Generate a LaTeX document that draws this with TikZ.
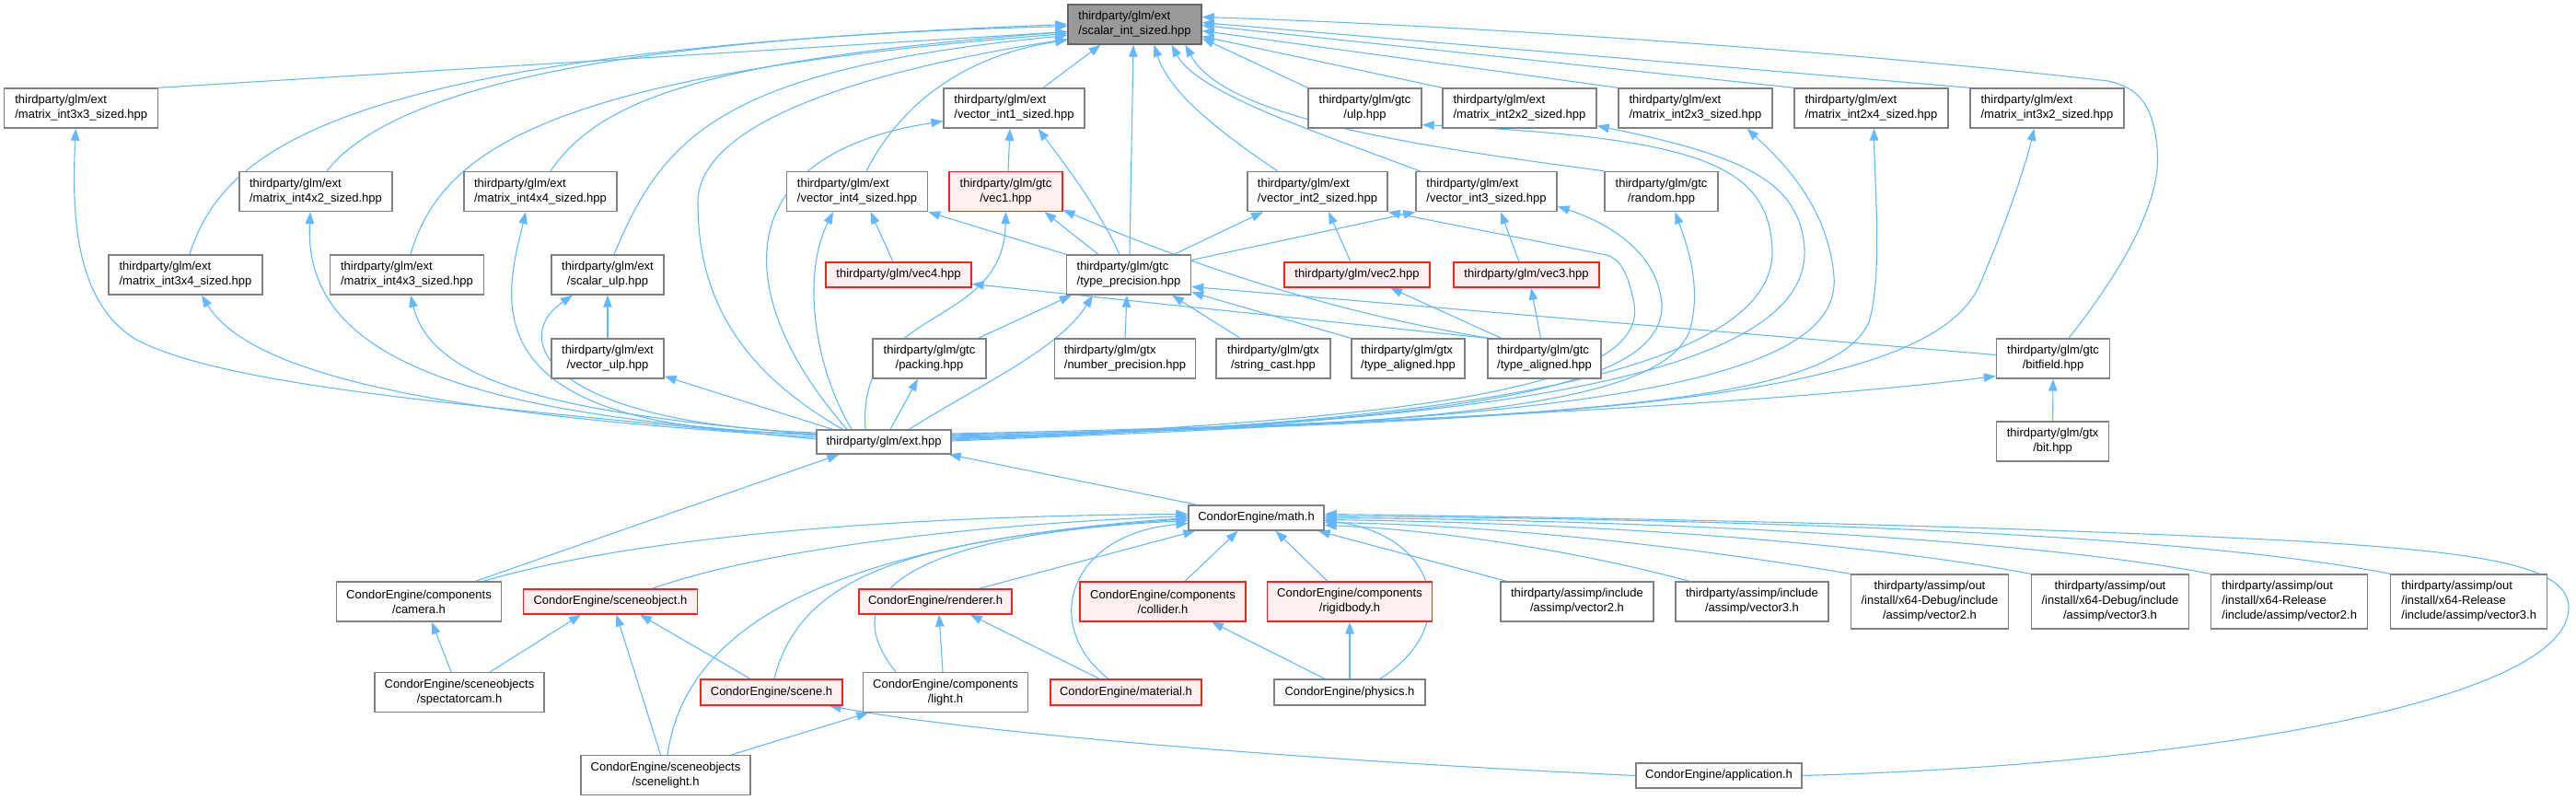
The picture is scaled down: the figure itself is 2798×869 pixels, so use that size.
\documentclass[tikz,border=0pt]{standalone}
\usepackage{fontspec}
\setmainfont{Liberation Sans}
\usetikzlibrary{arrows.meta,calc,backgrounds}
\definecolor{edgec}{HTML}{63B8FF}
\definecolor{nodeb}{HTML}{808080}
\definecolor{rootf}{HTML}{999999}
\definecolor{rootb}{HTML}{666666}
\definecolor{redf}{HTML}{FFF0F0}
\definecolor{redb}{HTML}{FF2020}
\tikzset{
 nb/.style={rectangle, draw=nodeb, fill=white, line width=1.4pt, inner sep=0pt, font=\fontsize{13}{16}\selectfont, text=black, align=center},
 rootn/.style={nb, fill=rootf, draw=rootb},
 redn/.style={nb, fill=redf, draw=redb, line width=1.2pt},
 edge/.style={draw=edgec, line width=1.1pt, -{Triangle[length=13pt,width=9.5pt]}},
 one/.style={minimum height=27pt},
 two/.style={minimum height=43pt},
 three/.style={minimum height=59pt},
 lft/.style={align=left},
}
\begin{document}
\begin{tikzpicture}[x=1pt,y=-1pt]
\useasboundingbox (0,0) rectangle (2798,869);
% ---------- nodes ----------
\node[rootn,two,lft,minimum width=145pt] (S) at (1232.5,26.5) {thirdparty/glm/ext\\/scalar\_int\_sized.hpp};
\node[nb,two,lft,minimum width=167pt] (m33) at (88.25,117.5) {thirdparty/glm/ext\\/matrix\_int3x3\_sized.hpp};
\node[nb,two,lft,minimum width=153pt] (V1) at (1101.5,117.5) {thirdparty/glm/ext\\/vector\_int1\_sized.hpp};
\node[nb,two,minimum width=123pt] (ulp) at (1482.5,117.5) {thirdparty/glm/gtc\\/ulp.hpp};
\node[nb,two,lft,minimum width=167pt] (m22) at (1650.5,117.5) {thirdparty/glm/ext\\/matrix\_int2x2\_sized.hpp};
\node[nb,two,lft,minimum width=167pt] (m23) at (1841.5,117.5) {thirdparty/glm/ext\\/matrix\_int2x3\_sized.hpp};
\node[nb,two,lft,minimum width=167pt] (m24) at (2032.5,117.5) {thirdparty/glm/ext\\/matrix\_int2x4\_sized.hpp};
\node[nb,two,lft,minimum width=167pt] (m32) at (2223.5,117.5) {thirdparty/glm/ext\\/matrix\_int3x2\_sized.hpp};
\node[nb,two,lft,minimum width=166pt] (m42) at (343,208) {thirdparty/glm/ext\\/matrix\_int4x2\_sized.hpp};
\node[nb,two,lft,minimum width=166pt] (m44) at (587,208) {thirdparty/glm/ext\\/matrix\_int4x4\_sized.hpp};
\node[nb,two,lft,minimum width=153pt] (V4) at (931,208) {thirdparty/glm/ext\\/vector\_int4\_sized.hpp};
\node[redn,two,minimum width=123pt] (vec1) at (1092.5,208) {thirdparty/glm/gtc\\/vec1.hpp};
\node[nb,two,lft,minimum width=152pt] (V2) at (1431,208) {thirdparty/glm/ext\\/vector\_int2\_sized.hpp};
\node[nb,two,lft,minimum width=153pt] (V3) at (1614.5,208) {thirdparty/glm/ext\\/vector\_int3\_sized.hpp};
\node[nb,two,minimum width=123pt] (random) at (1804.5,208) {thirdparty/glm/gtc\\/random.hpp};
\node[nb,two,lft,minimum width=167pt] (m34) at (201.5,298.5) {thirdparty/glm/ext\\/matrix\_int3x4\_sized.hpp};
\node[nb,two,lft,minimum width=167pt] (m43) at (442,298.5) {thirdparty/glm/ext\\/matrix\_int4x3\_sized.hpp};
\node[nb,two,minimum width=122pt] (sulp) at (660,298.5) {thirdparty/glm/ext\\/scalar\_ulp.hpp};
\node[redn,one,minimum width=158pt] (vec4) at (976,298.5) {thirdparty/glm/vec4.hpp};
\node[nb,two,lft,minimum width=135pt] (TP) at (1226,298.5) {thirdparty/glm/gtc\\/type\_precision.hpp};
\node[redn,one,minimum width=158pt] (vec2) at (1474,298.5) {thirdparty/glm/vec2.hpp};
\node[redn,one,minimum width=158pt] (vec3) at (1658,298.5) {thirdparty/glm/vec3.hpp};
\node[nb,two,minimum width=122pt] (vulp) at (660,389.5) {thirdparty/glm/ext\\/vector\_ulp.hpp};
\node[nb,two,minimum width=123pt] (packing) at (1009.5,389.5) {thirdparty/glm/gtc\\/packing.hpp};
\node[nb,two,lft,minimum width=153pt] (numprec) at (1222,389.5) {thirdparty/glm/gtx\\/number\_precision.hpp};
\node[nb,two,minimum width=124pt] (strcast) at (1383,389.5) {thirdparty/glm/gtx\\/string\_cast.hpp};
\node[nb,two,lft,minimum width=123pt] (gtxta) at (1529.5,389.5) {thirdparty/glm/gtx\\/type\_aligned.hpp};
\node[nb,two,lft,minimum width=123pt] (gtcta) at (1677.5,389.5) {thirdparty/glm/gtc\\/type\_aligned.hpp};
\node[nb,two,minimum width=123pt] (bitfield) at (2230,389.5) {thirdparty/glm/gtc\\/bitfield.hpp};
\node[nb,minimum height=26pt,minimum width=146pt] (E) at (960,480) {thirdparty/glm/ext.hpp};
\node[nb,two,minimum width=122pt] (bit) at (2229.6,479.5) {thirdparty/glm/gtx\\/bit.hpp};
\node[nb,one,minimum width=147pt] (M) at (1364.5,562.5) {CondorEngine/math.h};
\node[nb,two,minimum width=179pt] (camera) at (455,653.5) {CondorEngine/components\\/camera.h};
\node[redn,one,minimum width=189pt] (sobj) at (663,653.5) {CondorEngine/sceneobject.h};
\node[redn,one,minimum width=166pt] (renderer) at (1016,653.5) {CondorEngine/renderer.h};
\node[redn,two,minimum width=180pt] (collider) at (1263,653.5) {CondorEngine/components\\/collider.h};
\node[redn,two,minimum width=179pt] (rigid) at (1466,653.5) {CondorEngine/components\\/rigidbody.h};
\node[nb,two,minimum width=166pt] (aiv2) at (1713,653.5) {thirdparty/assimp/include\\/assimp/vector2.h};
\node[nb,two,minimum width=166pt] (aiv3) at (1903,653.5) {thirdparty/assimp/include\\/assimp/vector3.h};
\node[nb,three,minimum width=171pt] (adv2) at (2096,653.5) {thirdparty/assimp/out\\/install/x64-Debug/include\\/assimp/vector2.h};
\node[nb,three,minimum width=171pt] (adv3) at (2292,653.5) {thirdparty/assimp/out\\/install/x64-Debug/include\\/assimp/vector3.h};
\node[nb,three,lft,minimum width=170pt] (arv2) at (2486.7,653.5) {thirdparty/assimp/out\\/install/x64-Release\\/include/assimp/vector2.h};
\node[nb,three,lft,minimum width=170pt] (arv3) at (2681.7,653.5) {thirdparty/assimp/out\\/install/x64-Release\\/include/assimp/vector3.h};
\node[nb,two,minimum width=184pt] (spect) at (499,752) {CondorEngine/sceneobjects\\/spectatorcam.h};
\node[redn,minimum height=28pt,minimum width=154pt] (scene) at (838,752) {CondorEngine/scene.h};
\node[nb,two,minimum width=179pt] (light) at (1027,752) {CondorEngine/components\\/light.h};
\node[redn,minimum height=28pt,minimum width=164pt] (material) at (1223,752) {CondorEngine/material.h};
\node[nb,minimum height=28pt,minimum width=164pt] (physics) at (1466,752) {CondorEngine/physics.h};
\node[nb,two,minimum width=184pt] (scenelight) at (723,842) {CondorEngine/sceneobjects\\/scenelight.h};
\node[nb,one,minimum width=180pt] (app) at (1867,842.5) {CondorEngine/application.h};
% ---------- edges ----------
\begin{scope}[on background layer]
% into scalar_int_sized
\draw[edge] (m33.north east) -- ($(S.west)+(0,8)$);
\draw[edge] ($(m42.north)+(12,0)$) .. controls (430,90) and (700,40) .. ($(S.west)+(0,2)$);
\draw[edge] ($(m34.north)+(4.5,0)$) .. controls (245,150) and (400,55) .. ($(S.west)+(0,0)$);
\draw[edge] ($(m43.north)+(4,0)$) .. controls (480,160) and (600,80) .. ($(S.west)+(0,10)$);
\draw[edge] ($(m44.north)+(11,0)$) .. controls (650,110) and (760,65) .. ($(S.west)+(0,8)$);
\draw[edge] ($(sulp.north)+(7,0)$) .. controls (720,150) and (780,75) .. ($(S.west)+(0,12)$);
\draw[edge] ($(E.north)+(-45,0)$) .. controls (800,400) and (758,320) .. (758,220) .. controls (758,130) and (950,75) .. ($(S.west)+(0,16)$);
\draw[edge] ($(V1.north)+(31.5,0)$) -- ($(S.south)+(-37,0)$);
\draw[edge] ($(V4.north)+(10,0)$) .. controls (980,110) and (1050,60) .. ($(S.west)+(0,17)$);
\draw[edge] ($(TP.north)+(1,0)$) -- ($(S.south)+(-1.5,0)$);
\draw[edge] ($(V2.north)+(-43.5,0)$) .. controls (1320,140) and (1270,100) .. ($(S.south)+(21,0)$);
\draw[edge] ($(V3.north west)+(5,0)$) .. controls (1420,140) and (1300,100) .. ($(S.south)+(40,0)$);
\draw[edge] (random.north west) .. controls (1550,160) and (1330,130) .. ($(S.south)+(55,0)$);
\draw[edge] (ulp.north west) -- ($(S.east)+(0,15)$);
\draw[edge] (m22.north west) -- ($(S.east)+(0,13)$);
\draw[edge] (m23.north west) -- ($(S.east)+(0,7)$);
\draw[edge] (m24.north west) -- ($(S.east)+(0,1)$);
\draw[edge] (m32.north west) -- ($(S.east)+(0,-2)$);
\draw[edge] ($(bitfield.north)+(17,0)$) .. controls (2300,300) and (2350,220) .. (2343,160) .. controls (2338,110) and (2320,95) .. (2290,88) .. controls (2000,55) and (1600,28) .. ($(S.east)+(0,-8)$);
% from ext.hpp
\draw[edge] ($(E.west)+(0,-3)$) .. controls (500,440) and (250,420) .. (150,370) .. controls (80,330) and (78,230) .. ($(m33.south)+(-6,0)$);
\draw[edge] ($(E.west)+(0,-5)$) .. controls (550,455) and (280,420) .. ($(m34.south)+(17.5,0)$);
\draw[edge] ($(E.west)+(0,-7)$) .. controls (480,450) and (330,380) .. ($(m42.south)+(-6,0)$);
\draw[edge] ($(E.west)+(0,-8)$) .. controls (620,450) and (470,420) .. ($(m43.south)+(4,0)$);
\draw[edge] ($(E.west)+(0,-9)$) .. controls (500,470) and (550,320) .. ($(m44.south)+(-16,0)$);
\draw[edge] ($(E.west)+(0,-10)$) .. controls (600,460) and (550,370) .. ($(sulp.south)+(-38,0)$);
\draw[edge] ($(E.north west)+(18,0)$) -- ($(vulp.south east)+(0,-3)$);
\draw[edge] ($(E.north)+(-40,0)$) .. controls (800,330) and (780,170) .. ($(V1.west)+(0,14)$);
\draw[edge] ($(E.north)+(-20,0)$) .. controls (930,330) and (1090,360) .. (vec1.south);
\draw[edge] ($(E.north)+(-35,0)$) .. controls (885,400) and (870,300) .. ($(V4.south)+(-26,0)$);
\draw[edge] ($(E.north east)+(-46,0)$) .. controls (1060,420) and (1150,380) .. ($(TP.south)+(-39,0)$);
\draw[edge] ($(E.north)+(7,0)$) -- ($(packing.south)+(-12.5,0)$);
\draw[edge] ($(E.east)+(0,-3)$) .. controls (1550,455) and (1790,420) .. (1775,330) .. controls (1768,295) and (1760,282) .. (1745,277) -- (V2.south east);
\draw[edge] ($(E.east)+(0,-2)$) .. controls (1550,458) and (1810,430) .. (1805,330) .. controls (1800,270) and (1740,240) .. ($(V3.east)+(0,16)$);
\draw[edge] ($(E.east)+(0,-1)$) .. controls (1500,460) and (1800,450) .. (1835,360) .. controls (1850,310) and (1830,260) .. ($(random.south)+(15,0)$);
\draw[edge] ($(E.east)+(0,-4)$) .. controls (1700,460) and (1930,380) .. (1925,270) .. controls (1920,180) and (1850,150) .. ($(ulp.east)+(0,18)$);
\draw[edge] ($(E.east)+(0,-5)$) .. controls (1750,460) and (1965,380) .. (1960,270) .. controls (1955,200) and (1900,170) .. ($(m22.south east)+(0,-3)$);
\draw[edge] ($(E.east)+(0,-6)$) .. controls (1800,460) and (2000,400) .. (1992,300) .. controls (1985,220) and (1930,170) .. ($(m23.south)+(56,0)$);
\draw[edge] ($(E.east)+(0,-7)$) .. controls (1700,455) and (1990,440) .. (2030,350) .. controls (2045,300) and (2036,200) .. ($(m24.south)+(3,0)$);
\draw[edge] ($(E.east)+(0,-8)$) .. controls (1800,460) and (2100,420) .. (2150,310) .. controls (2180,240) and (2200,180) .. ($(m32.south)+(-14,0)$);
\draw[edge] ($(E.east)+(0,-9)$) .. controls (1600,460) and (2000,430) .. ($(bitfield.west)+(0,19)$);
% glm internals
\draw[edge] ($(bitfield.west)+(0,-4)$) -- ($(TP.east)+(0,13)$);
\draw[edge] (bit.north) -- (bitfield.south);
\draw[edge] ($(TP.north)+(-10,0)$) .. controls (1190,220) and (1150,170) .. ($(V1.south)+(26,0)$);
\draw[edge] ($(TP.north)+(-33,0)$) -- ($(vec1.south)+(42,0)$);
\draw[edge] (TP.north west) -- (V4.south east);
\draw[edge] ($(TP.north east)+(-19,0)$) -- ($(V2.south)+(-59,0)$);
\draw[edge] ($(TP.east)+(0,-16)$) -- (V3.south west);
\draw[edge] ($(packing.north east)+(-9,0)$) -- ($(TP.south west)+(6,0)$);
\draw[edge] (numprec.north) -- ($(TP.south)+(-2,0)$);
\draw[edge] ($(strcast.north)+(-36,0)$) -- ($(TP.south)+(47,0)$);
\draw[edge] (gtxta.north west) -- ($(TP.east)+(0,19)$);
\draw[edge] ($(gtcta.north)+(-4,0)$) -- ($(vec3.south)+(5,0)$);
\draw[edge] ($(gtcta.north)+(-47,0)$) -- ($(vec2.south)+(36,0)$);
\draw[edge] (gtcta.north west) -- ($(vec4.east)+(0,10)$);
\draw[edge] ($(gtcta.north west)+(2,0)$) .. controls (1450,340) and (1300,290) .. ($(vec1.south east)+(0,-2)$);
\draw[edge] ($(vec1.north)+(2.5,0)$) -- ($(V1.south)+(-4.5,0)$);
\draw[edge] ($(vec4.north)+(-6,0)$) -- ($(V4.south)+(14.5,0)$);
\draw[edge] ($(vec2.north)+(-7,0)$) -- ($(V2.south)+(12,0)$);
\draw[edge] ($(vec3.north)+(-8,0)$) -- ($(V3.south)+(15.5,0)$);
\draw[edge] (vulp.north) -- (sulp.south);
% CondorEngine
\draw[edge] ($(M.north west)+(10,0)$) -- ($(E.south east)+(-3,0)$);
\draw[edge] ($(camera.north)+(61.5,0)$) -- ($(E.south west)+(25,0)$);
\draw[edge] ($(camera.north)+(70,0)$) .. controls (700,580) and (1000,560) .. ($(M.west)+(0,-4)$);
\draw[edge] ($(sobj.north)+(45,0)$) .. controls (850,590) and (1100,568) .. ($(M.west)+(0,-2)$);
\draw[edge] ($(scene.north)+(3,0)$) .. controls (870,620) and (1000,585) .. ($(M.west)+(0,1)$);
\draw[edge] ($(light.north)+(-54,0)$) .. controls (900,640) and (1000,580) .. ($(M.west)+(0,3)$);
\draw[edge] ($(scenelight.north)+(2,0)$) .. controls (745,680) and (900,590) .. ($(M.west)+(0,0)$);
\draw[edge] ($(material.north)+(-19,0)$) .. controls (1130,680) and (1160,580) .. ($(M.west)+(0,6)$);
\draw[edge] ($(renderer.north)+(47,0)$) -- ($(M.south west)+(8,0)$);
\draw[edge] ($(collider.north)+(24,0)$) -- ($(M.south)+(-20,0)$);
\draw[edge] ($(rigid.north)+(-24,0)$) -- ($(M.south)+(21,0)$);
\draw[edge] ($(aiv2.north west)+(7,0)$) -- ($(M.south east)+(-7,0)$);
\draw[edge] ($(physics.north)+(33,0)$) .. controls (1590,680) and (1560,580) .. ($(M.east)+(0,3)$);
\draw[edge] ($(aiv3.north)+(-68,0)$) .. controls (1700,595) and (1550,575) .. ($(M.east)+(0,8)$);
\draw[edge] (adv2.north west) .. controls (1800,588) and (1600,570) .. ($(M.east)+(0,5)$);
\draw[edge] (adv3.north west) .. controls (2000,585) and (1700,568) .. ($(M.east)+(0,2)$);
\draw[edge] (arv2.north west) .. controls (2200,585) and (1800,565) .. ($(M.east)+(0,0)$);
\draw[edge] (arv3.north west) .. controls (2400,585) and (2000,565) .. ($(M.east)+(0,-2)$);
\draw[edge] (app.east) .. controls (2400,830) and (2790,760) .. (2790,660) .. controls (2790,615) and (2700,600) .. (2500,588) .. controls (2200,572) and (1800,563) .. ($(M.east)+(0,-4)$);
\draw[edge] ($(spect.north)+(-9,0)$) -- ($(camera.south)+(14,0)$);
\draw[edge] ($(spect.north)+(33.5,0)$) -- ($(sobj.south)+(-32,0)$);
\draw[edge] ($(scene.north)+(-23,0)$) -- ($(sobj.south)+(32,0)$);
\draw[edge] ($(scenelight.north)+(-5.5,0)$) -- ($(sobj.south)+(6.5,0)$);
\draw[edge] ($(scenelight.north east)+(-21,0)$) -- ($(light.south west)+(6.5,0)$);
\draw[edge] ($(light.north)+(-3,0)$) -- ($(renderer.south)+(4,0)$);
\draw[edge] ($(material.north west)+(54,0)$) -- ($(renderer.south east)+(-46,0)$);
\draw[edge] ($(physics.north)+(-27,0)$) -- ($(collider.south)+(53,0)$);
\draw[edge] (physics.north) -- (rigid.south);
\draw[edge] (app.west) .. controls (1400,825) and (1050,795) .. ($(scene.south east)+(-15,0)$);
\end{scope}
\end{tikzpicture}
\end{document}
